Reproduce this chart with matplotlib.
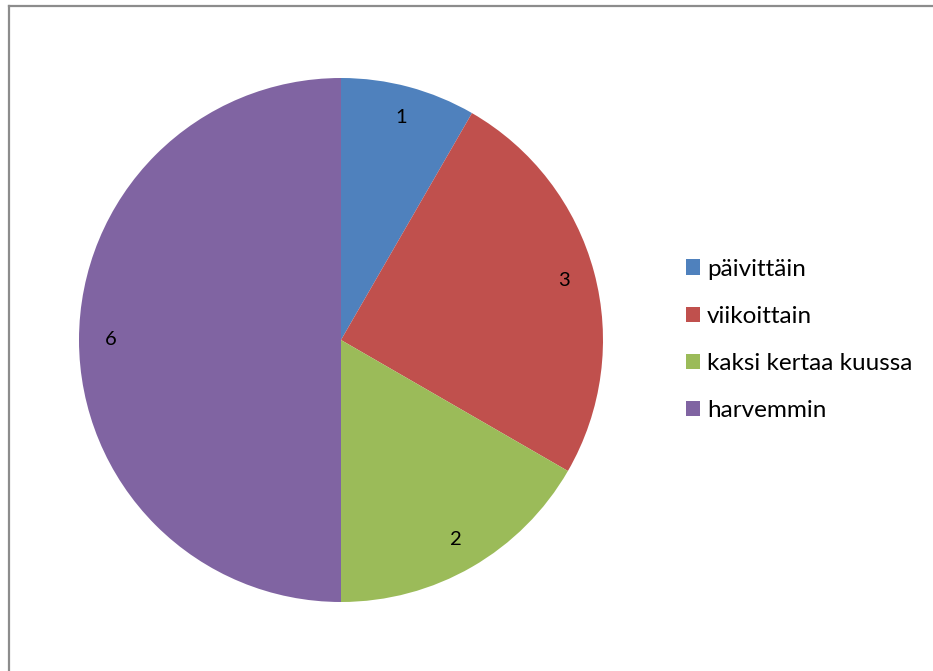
import matplotlib.pyplot as plt
from matplotlib.lines import Line2D

categories = ["päivittäin", "viikoittain", "kaksi kertaa kuussa", "harvemmin"]
values = [1, 3, 2, 6]
colors = ["#4F81BD", "#C0504D", "#9BBB59", "#8064A2"]

plt.rcParams['font.family'] = ['Lato', 'DejaVu Sans']

W, H = 933, 671
fig = plt.figure(figsize=(W / 100, H / 100), dpi=100)

# pie axes: centre (341, 340) px, radius 262 px
cx, cy, r = 341, 340, 262
ax = fig.add_axes([(cx - r) / W, (H - cy - r) / H, 2 * r / W, 2 * r / H])
total = sum(values)
wedges, texts, autotexts = ax.pie(
    values, colors=colors, startangle=90, counterclock=False,
    autopct=lambda p: f"{round(p * total / 100)}", pctdistance=0.88,
    textprops={'fontsize': 14.5, 'color': 'black'},
    wedgeprops={'linewidth': 0})
ax.set_xlim(-1, 1)
ax.set_ylim(-1, 1)
ax.set_aspect('equal')
ax.axis('off')

fig.legend(wedges, categories, loc='center left',
           bbox_to_anchor=(686 / W, 1 - 340 / H), frameon=False,
           borderpad=0, borderaxespad=0,
           fontsize=17.5, handlelength=0.58, handleheight=0.58,
           handletextpad=0.28, labelspacing=1.08)

# chart area border (left and top visible)
gray = "#8c8c8c"
fig.add_artist(Line2D([8.5 / W, 8.5 / W], [0, 1 - 6 / H], color=gray, lw=1.6,
                      transform=fig.transFigure))
fig.add_artist(Line2D([8.5 / W, 1], [1 - 6 / H, 1 - 6 / H], color=gray, lw=1.6,
                      transform=fig.transFigure))

fig.savefig("out.png", dpi=100)
